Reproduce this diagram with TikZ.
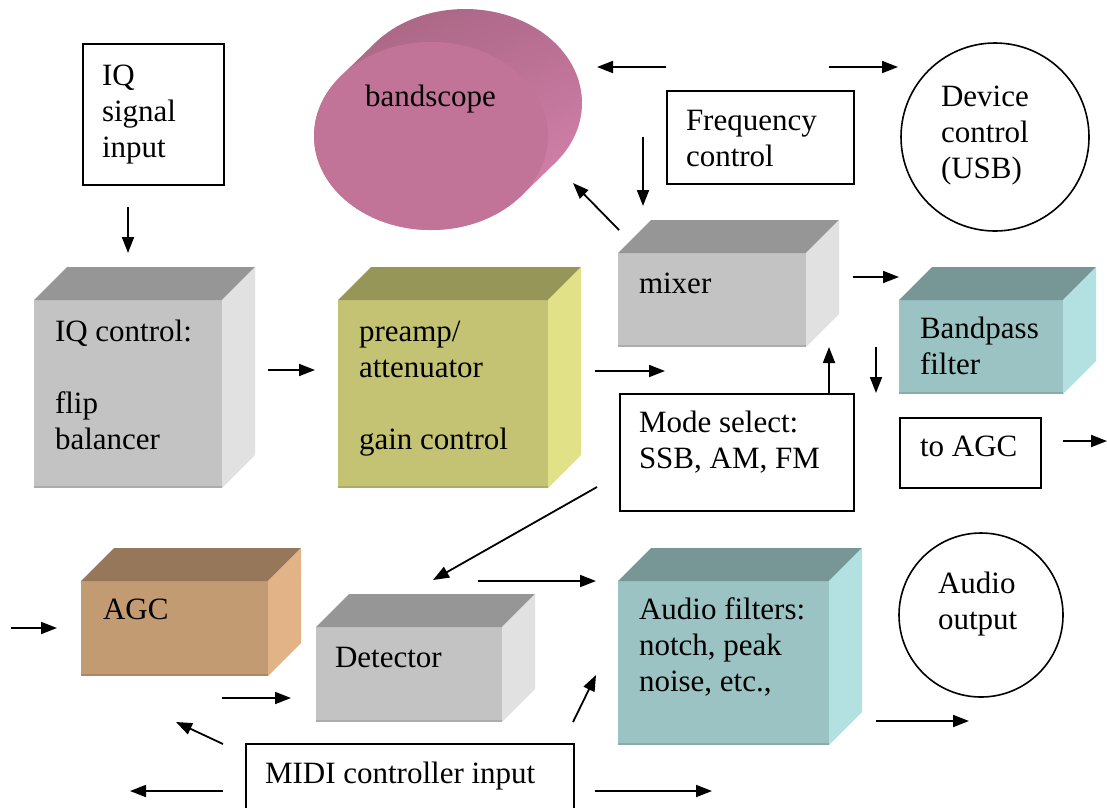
\documentclass[tikz,border=0pt]{standalone}
\usepackage{fontspec}
\setmainfont{Liberation Serif}
\newfontfamily\blockfont{Liberation Serif}
\usetikzlibrary{arrows.meta,calc,shapes.geometric,shadings}

% face colours of the blocks: front / top / side
\definecolor{grfront}{HTML}{C3C3C3}\definecolor{grtop}{HTML}{969696}\definecolor{grside}{HTML}{E1E1E1}
\definecolor{olfront}{HTML}{C3C373}\definecolor{oltop}{HTML}{969659}\definecolor{olside}{HTML}{E1E187}
\definecolor{tlfront}{HTML}{9BC3C3}\definecolor{tltop}{HTML}{779696}\definecolor{tlside}{HTML}{B3E1E1}
\definecolor{tnfront}{HTML}{C39B73}\definecolor{tntop}{HTML}{967759}\definecolor{tnside}{HTML}{E1B387}
% bandscope cylinder
\definecolor{bsfront}{HTML}{C27498}
\definecolor{bsdark}{HTML}{A3627F}
\definecolor{bsmid}{HTML}{C47A9E}
\definecolor{bsupper}{HTML}{B46C8E}
\definecolor{bslight}{HTML}{E08AB5}

\tikzset{
  lbl/.style={anchor=north west, inner sep=0pt, outer sep=0pt, align=left,
              font=\blockfont\fontsize{31}{36}\selectfont},
  frame/.style={draw=black, line width=1.6pt, inner sep=0pt, anchor=north west},
  ring/.style={draw=black, line width=1.6pt, circle, inner sep=0pt},
  flow/.style={line width=1.8pt, -{Triangle[length=16pt,width=12pt]}},
  face/.style={inner sep=0pt, outer sep=0pt, draw=none, anchor=north west},
}

% a block drawn as a box in perspective: name, x, y, width, height, palette
\newcommand{\cubebox}[6]{%
  \node[face, fill=#6front, minimum width=#4pt, minimum height=#5pt] (#1) at (#2,#3) {};
  \fill[#6top] (#1.north west) -- ++(33,-33) -- ($(#1.north east)+(33,-33)$) -- (#1.north east) -- cycle;
  \fill[#6side] (#1.north east) -- ++(33,-33) -- ($(#1.south east)+(33,-33)$) -- (#1.south east) -- cycle;
  \draw[#6front!88!black, line width=1.6pt] ($(#1.south west)+(0,-0.8)$) -- ($(#1.south east)+(0,-0.8)$);
}

\begin{document}
\begin{tikzpicture}[x=1pt,y=-1pt]
\useasboundingbox (0,0) rectangle (1107,807);
\clip (0,0) rectangle (1107,807);

% bandscope: a short cylinder seen from the front
\begin{scope}[shift={(431,136)}, y={(0pt,1pt)}]
  \shade[upper left=bsdark, upper right=bsupper, lower left=bsmid, lower right=bslight]
    (-39.6:117 and 94) arc[start angle=-39.6, end angle=-219.6, x radius=117, y radius=94]
    -- ++(34,33) arc[start angle=140.4, end angle=-39.6, x radius=117, y radius=94] -- cycle;
  \node[ellipse, fill=bsfront, inner sep=0pt, minimum width=234pt, minimum height=188pt] (bandscope) at (0,0) {};
\end{scope}
\node[lbl] (bandscopetext) at (365,81) {\strut bandscope};

% plain boxes and circles
\node[frame, minimum width=141pt, minimum height=141pt] (iqin) at (82,43) {};
\node[lbl] (iqintext) at (102,60) {\strut IQ\\signal\\input};

\node[frame, minimum width=187pt, minimum height=93pt] (freq) at (666,90) {};
\node[lbl] (freqtext) at (686,105) {\strut Frequency\\control};

\node[ring, minimum size=188pt] (dev) at (995,137) {};
\node[lbl] (devtext) at (941,81) {\strut Device\\control\\(USB)};

\node[frame, minimum width=234pt, minimum height=117pt] (mode) at (619,393) {};
\node[lbl] (modetext) at (639,407) {\strut Mode select:\\SSB, AM, FM};

\node[frame, minimum width=141pt, minimum height=70pt] (toagc) at (899,417) {};
\node[lbl] (toagctext) at (920,431) {\strut to AGC};

\node[ring, minimum size=164pt] (aout) at (981,615) {};
\node[lbl] (aouttext) at (938,568) {\strut Audio\\output};

\node[frame, minimum width=328pt, minimum height=80pt] (midi) at (245,743) {};
\node[lbl] (miditext) at (265,758) {\strut MIDI controller input};

% processing blocks
\cubebox{iqc}{34}{300}{188}{188}{gr}
\node[lbl] (iqctext) at (55,316) {\strut IQ control:\\[36pt]flip\\balancer};

\cubebox{pre}{338}{300}{210}{188}{ol}
\node[lbl] (pretext) at (359,316) {\strut preamp/\\attenuator\\[36pt]gain control};

\cubebox{mix}{618}{253}{188}{94}{gr}
\node[lbl] (mixtext) at (639,268) {\strut mixer};

\cubebox{bpf}{899}{300}{164}{94}{tl}
\node[lbl] (bpftext) at (920,313) {\strut Bandpass\\filter};

\cubebox{agc}{81}{581}{187}{95}{tn}
\node[lbl] (agctext) at (103,594) {\strut AGC};

\cubebox{det}{316}{627}{186}{95}{gr}
\node[lbl] (dettext) at (335,642) {\strut Detector};

\cubebox{afil}{618}{581}{211}{164}{tl}
\node[lbl] (afiltext) at (639,594) {\strut Audio filters:\\notch, peak\\noise, etc.,};

% arrow end points
\coordinate (iqdownS) at (128,207);   \coordinate (iqdownE) at (128,253);
\coordinate (iqpreS) at (268,370);    \coordinate (iqpreE) at (315,370);
\coordinate (preoutS) at (595,371);   \coordinate (preoutE) at (665,371);
\coordinate (fleftS) at (666,67);     \coordinate (fleftE) at (597,67);
\coordinate (frightS) at (829,67);    \coordinate (frightE) at (898,67);
\coordinate (fdownS) at (643,137);    \coordinate (fdownE) at (643,206);
\coordinate (mixbsS) at (619,230);    \coordinate (mixbsE) at (573,183);
\coordinate (mixbpS) at (853,277);    \coordinate (mixbpE) at (899,277);
\coordinate (modeupS) at (829,393);   \coordinate (modeupE) at (829,347);
\coordinate (bpdownS) at (876,347);   \coordinate (bpdownE) at (876,393);
\coordinate (agcoutS) at (1063,441);  \coordinate (agcoutE) at (1107,441);
\coordinate (modedetS) at (597,487);  \coordinate (modedetE) at (433,580);
\coordinate (detafS) at (478,581);    \coordinate (detafE) at (596,581);
\coordinate (agcinS) at (11,628);     \coordinate (agcinE) at (57,628);
\coordinate (agcdetS) at (222,698);   \coordinate (agcdetE) at (291,698);
\coordinate (midiafS) at (573,722);   \coordinate (midiafE) at (596,675);
\coordinate (afoutS) at (876,721);    \coordinate (afoutE) at (969,721);
\coordinate (midiagcS) at (223,744);  \coordinate (midiagcE) at (176,722);
\coordinate (midileftS) at (223,791); \coordinate (midileftE) at (130,791);
\coordinate (midirightS) at (595,791);\coordinate (midirightE) at (712,791);

\foreach \a in {iqdown,iqpre,preout,fleft,fright,fdown,mixbs,mixbp,modeup,bpdown,
                agcout,modedet,detaf,agcin,agcdet,midiaf,afout,midiagc,midileft,midiright}
  \draw[flow] (\a S) -- (\a E);
\end{tikzpicture}
\end{document}
